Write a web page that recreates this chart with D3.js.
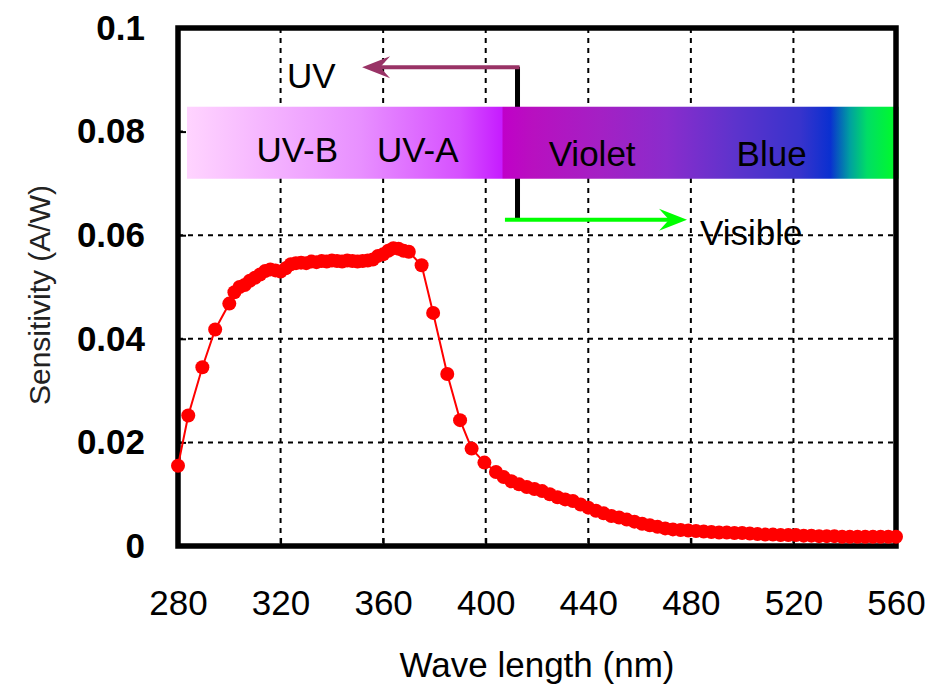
<!DOCTYPE html>
<html>
<head>
<meta charset="utf-8">
<script src="https://cdn.jsdelivr.net/npm/d3@7"></script>
<style>
  body { margin: 0; background: #fff; }
  text { font-family: "Liberation Sans", Arial, sans-serif; }
</style>
</head>
<body>
<div id="chart"></div>
<script>
// wavelength (nm) and sensitivity (A/W)
const wavelength = [280, 284, 289.5, 294.5, 300, 302, 304, 306, 308, 310, 312, 314, 316, 318, 320,
  322, 324, 326, 328, 330, 332, 334, 336, 338, 340, 342, 344, 346, 348, 350, 352, 354, 356, 358,
  360, 362, 364, 366, 368, 370, 375, 379.5, 385, 390, 394.5, 399.5, 404, 407, 410, 413, 416, 419,
  422, 425, 428, 431, 434, 437, 440, 443, 446, 449, 452, 455, 458, 461, 464, 467, 470, 473, 476,
  479, 482, 485, 488, 491, 494, 497, 500, 503, 506, 509, 512, 515, 518, 521, 524, 527, 530, 533,
  536, 539, 542, 545, 548, 551, 554, 557, 560];
const sensitivity = [0.0155, 0.0252, 0.0345, 0.0418, 0.0468, 0.0490, 0.0500, 0.0504, 0.0512, 0.0518,
  0.0524, 0.0531, 0.0534, 0.0532, 0.0530, 0.0536, 0.0544, 0.0546, 0.0547, 0.0546, 0.0549, 0.0548,
  0.0550, 0.0549, 0.0551, 0.0550, 0.0549, 0.0551, 0.0550, 0.0549, 0.0550, 0.0551, 0.0553, 0.0560,
  0.0563, 0.0570, 0.0575, 0.0574, 0.0570, 0.0568, 0.0542, 0.0450, 0.0332, 0.0243, 0.0188, 0.0161,
  0.0143, 0.0133, 0.0125, 0.0119, 0.0114, 0.0110, 0.0106, 0.0100, 0.0094, 0.0090, 0.0087, 0.0080,
  0.0074, 0.0068, 0.0063, 0.0058, 0.0055, 0.0051, 0.0047, 0.0043, 0.0040, 0.0037, 0.0034, 0.0032,
  0.0031, 0.0030, 0.0029, 0.0028, 0.0027, 0.0026, 0.0026, 0.0025, 0.0025, 0.0024, 0.0023, 0.0022,
  0.0022, 0.0021, 0.0021, 0.0021, 0.0020, 0.0020, 0.0019, 0.0019, 0.0019, 0.0018, 0.0018, 0.0018,
  0.0018, 0.0018, 0.0018, 0.0018, 0.0018];

const xTicks = [280, 320, 360, 400, 440, 480, 520, 560];
const yTicks = [0, 0.02, 0.04, 0.06, 0.08, 0.1];
const yTickLabels = ["0", "0.02", "0.04", "0.06", "0.08", "0.1"];

// spectrum band labels and their centre wavelengths
const bandLabels = ["UV-B", "UV-A", "Violet", "Blue"];
const bandLabelNm = [326.5, 373.5, 441.5, 511.5];
const bandLabelVal = [0.0741, 0.0741, 0.0733, 0.0733];

// colour stops of the band (nm -> colour)
const bandStopNm = [283.5, 311, 351, 390, 406.3, 406.8, 418.5, 444.7, 470.7, 496.6, 522.6, 534.4, 542, 548.7, 561];
const bandStopColor = ["#ffd4ff", "#f6b8ff", "#e890ff", "#d650ff", "#c61cff", "#c000c8", "#b810c0",
  "#a420c4", "#8a2ccc", "#5e33cc", "#3833cc", "#0a30d0", "#00a0a0", "#00dd66", "#00ff22"];

const margin = { top: 28, right: 52, bottom: 142, left: 178 }
const width = 948 - margin.left - margin.right,
    height = 688 - margin.top - margin.bottom;

const svg = d3.select("#chart")
    .append("svg")
    .attr("width", 948)
    .attr("height", 688)
    .append("g")
    .attr("transform", `translate(${margin.left}, ${margin.top})`);

const x = d3.scaleLinear().domain([280, 560]).range([0, width]);
const y = d3.scaleLinear().domain([0, 0.1]).range([height, 0]);

// dashed grid
svg.append("g")
    .selectAll("line")
    .data(xTicks.slice(1, -1))
    .join("line")
    .attr("x1", d => x(d)).attr("x2", d => x(d))
    .attr("y1", 0).attr("y2", height)
    .attr("stroke", "#000")
    .attr("stroke-width", 2)
    .attr("stroke-dasharray", "5,5");
svg.append("g")
    .selectAll("line")
    .data(yTicks.slice(1, -1))
    .join("line")
    .attr("x1", 0).attr("x2", width)
    .attr("y1", d => y(d)).attr("y2", d => y(d))
    .attr("stroke", "#000")
    .attr("stroke-width", 2)
    .attr("stroke-dasharray", "5,5");

// axes with inward ticks
const yAxis = svg.append("g")
    .call(d3.axisLeft(y).tickValues(yTicks).tickSize(-8).tickFormat((d, i) => yTickLabels[i]).tickPadding(33));
yAxis.select(".domain").remove();
yAxis.selectAll("line").attr("stroke-width", 2);
yAxis.selectAll("text")
    .style("font-family", "'Liberation Sans', Arial, sans-serif")
    .style("font-size", "35px")
    .style("font-weight", "bold")
    .attr("fill", "#000");

const xAxis = svg.append("g")
    .attr("transform", `translate(0, ${height})`)
    .call(d3.axisBottom(x).tickValues(xTicks).tickSize(-8).tickPadding(44));
xAxis.select(".domain").remove();
xAxis.selectAll("line").attr("stroke-width", 2);
xAxis.selectAll("text")
    .style("font-family", "'Liberation Sans', Arial, sans-serif")
    .style("font-size", "35px")
    .attr("fill", "#000");

// UV / visible divider and arrows
function arrow(x0, x1, yv, color) {
    const dir = Math.sign(x1 - x0);
    const tip = x(x1), yy = y(yv);
    svg.append("line")
        .attr("x1", x(x0)).attr("x2", tip - dir * 14)
        .attr("y1", yy).attr("y2", yy)
        .attr("stroke", color).attr("stroke-width", 4);
    svg.append("path")
        .attr("d", `M${tip},${yy} L${tip - dir * 28},${yy - 11} L${tip - dir * 18},${yy} L${tip - dir * 28},${yy + 11} Z`)
        .attr("fill", color);
}

svg.append("line")
    .attr("x1", x(412.4)).attr("x2", x(412.4))
    .attr("y1", y(0.0925)).attr("y2", y(0.0633))
    .attr("stroke", "#000").attr("stroke-width", 5);
arrow(413.2, 351.8, 0.0924, "#993366");
arrow(407.5, 478.5, 0.0630, "#00ff00");

// spectrum band
const defs = svg.append("defs");
const grad = defs.append("linearGradient")
    .attr("id", "band")
    .attr("gradientUnits", "userSpaceOnUse")
    .attr("x1", x(bandStopNm[0])).attr("x2", x(bandStopNm[bandStopNm.length - 1]))
    .attr("y1", 0).attr("y2", 0);
const span = bandStopNm[bandStopNm.length - 1] - bandStopNm[0];
grad.selectAll("stop")
    .data(bandStopNm)
    .join("stop")
    .attr("offset", d => (d - bandStopNm[0]) / span)
    .attr("stop-color", (d, i) => bandStopColor[i]);

svg.append("rect")
    .attr("x", x(bandStopNm[0]))
    .attr("width", x(bandStopNm[bandStopNm.length - 1]) - x(bandStopNm[0]))
    .attr("y", y(0.0848))
    .attr("height", y(0.0709) - y(0.0848))
    .attr("fill", "url(#band)");

svg.append("g")
    .selectAll("text")
    .data(bandLabels)
    .join("text")
    .attr("x", (d, i) => x(bandLabelNm[i]))
    .attr("y", (d, i) => y(bandLabelVal[i]))
    .attr("text-anchor", "middle")
    .style("font-size", "35px")
    .text(d => d);

svg.append("text")
    .attr("x", x(322.5)).attr("y", y(0.0884))
    .style("font-size", "35px")
    .text("UV");
svg.append("text")
    .attr("x", x(483.6)).attr("y", y(0.0581))
    .style("font-size", "35px")
    .text("Visible");

// frame
svg.append("rect")
    .attr("x", 0).attr("y", 0)
    .attr("width", width).attr("height", height)
    .attr("fill", "none")
    .attr("stroke", "#000")
    .attr("stroke-width", 5.5);

// measured curve
svg.append("path")
    .datum(wavelength)
    .attr("fill", "none")
    .attr("stroke", "#ff0000")
    .attr("stroke-width", 2)
    .attr("d", d3.line().x(d => x(d)).y((d, i) => y(sensitivity[i])));

svg.append("g")
    .selectAll("circle")
    .data(wavelength)
    .join("circle")
    .attr("cx", d => x(d))
    .attr("cy", (d, i) => y(sensitivity[i]))
    .attr("r", 7)
    .attr("fill", "#ff0000");

// axis titles
svg.append("text")
    .attr("x", width / 2)
    .attr("y", height + 131)
    .attr("text-anchor", "middle")
    .style("font-size", "35px")
    .text("Wave length (nm)");

svg.append("text")
    .attr("transform", `translate(${-128}, ${height / 2 + 8}) rotate(-90)`)
    .attr("text-anchor", "middle")
    .style("font-size", "30px")
    .attr("fill", "#222")
    .text("Sensitivity (A/W)");
</script>
</body>
</html>
